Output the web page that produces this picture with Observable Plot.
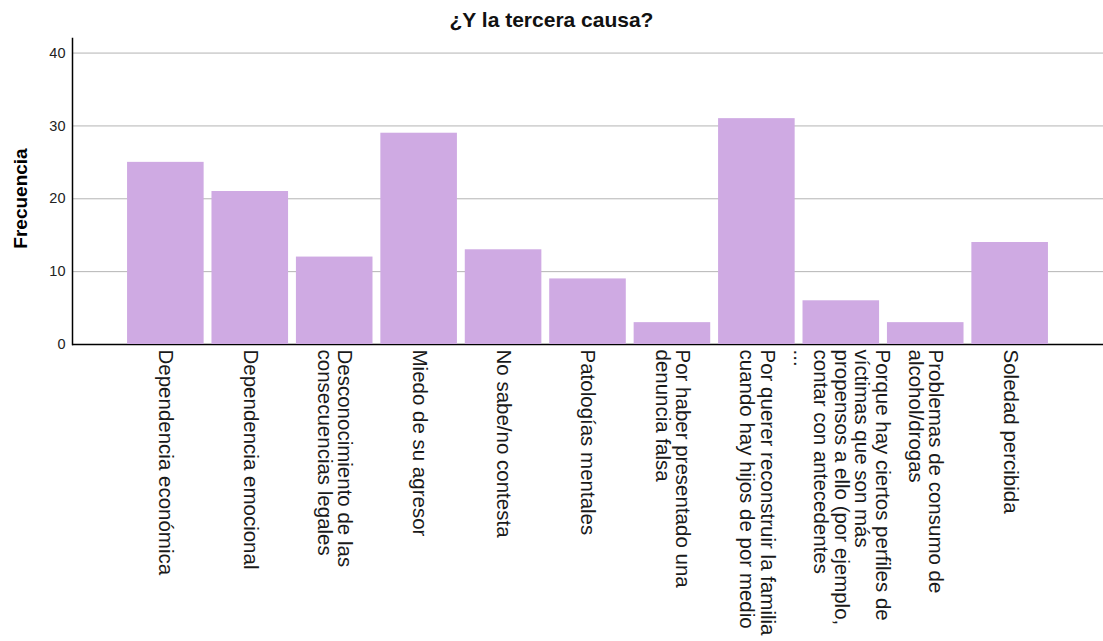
<!DOCTYPE html>
<html>
<head>
<meta charset="utf-8">
<script src="https://cdn.jsdelivr.net/npm/d3@7"></script>
<script src="https://cdn.jsdelivr.net/npm/@observablehq/plot@0.6"></script>
<style>
  body { margin: 0; background: #fff; font-family: "Liberation Sans", Arial, sans-serif; overflow: hidden; }
  #title { height: 36px; line-height: 40px; text-align: center; font-weight: bold; font-size: 21px; color: #111; white-space: nowrap; }
</style>
</head>
<body>
<div id="title">¿Y la tercera causa?</div>
<div id="chart"></div>
<script>
const categories = [
  "Dependencia económica",
  "Dependencia emocional",
  "Desconocimiento de las consecuencias legales",
  "Miedo de su agresor",
  "No sabe/no contesta",
  "Patologías mentales",
  "Por haber presentado una denuncia falsa",
  "Por querer reconstruir la familia cuando hay hijos de por medio",
  "Porque hay ciertos perfiles de víctimas que son más propensos a ello (por ejemplo, contar con antecedentes",
  "Problemas de consumo de alcohol/drogas",
  "Soledad percibida"
];
const tickLabels = [
  "Dependencia económica",
  "Dependencia emocional",
  "Desconocimiento de las\nconsecuencias legales",
  "Miedo de su agresor",
  "No sabe/no contesta",
  "Patologías mentales",
  "Por haber presentado una\ndenuncia falsa",
  "Por querer reconstruir la familia\ncuando hay hijos de por medio",
  "Porque hay ciertos perfiles de\nvíctimas que son más\npropensos a ello (por ejemplo,\ncontar con antecedentes\n...",
  "Problemas de consumo de\nalcohol/drogas",
  "Soledad percibida"
];
const frequencies = [25, 21, 12, 29, 13, 9, 3, 31, 6, 3, 14];
const yTicks = [0, 10, 20, 30, 40];
const yLabel = "Frecuencia";

const data = categories.map((c, i) => ({category: c, label: tickLabels[i], value: frequencies[i]}));

const chart = Plot.plot({
  width: 1103,
  height: 605,
  marginTop: 2,
  marginLeft: 72,
  marginRight: 0,
  marginBottom: 297,
  style: {fontFamily: "'Liberation Sans', Arial, sans-serif", background: "#fff", overflow: "visible"},
  x: {domain: categories, paddingInner: 0.093, paddingOuter: 0.652, round: false, axis: null},
  y: {domain: [0, 42], axis: null},
  marks: [
    Plot.gridY(yTicks.slice(1), {stroke: "#b4b4b4", strokeOpacity: 1, strokeWidth: 1}),
    Plot.ruleY([0], {stroke: "#000", strokeWidth: 1.5}),
    Plot.barY(data, {x: "category", y: "value", fill: "#cfaae3"}),
    Plot.frame({anchor: "left", stroke: "#000", strokeWidth: 1.5}),
    Plot.axisY({ticks: yTicks, tickSize: 0, tickPadding: 7, fontSize: 14.5, fill: "#222", label: null}),
    Plot.text(data, {x: "category", text: "label", frameAnchor: "bottom", rotate: 90, textAnchor: "start", lineAnchor: "middle", dy: 5, fontSize: 20.5, lineHeight: 1.0, fill: "#1a1a1a"}),
    Plot.text([yLabel], {frameAnchor: "left", rotate: -90, textAnchor: "middle", lineAnchor: "middle", dx: -52, dy: 7, fontWeight: "bold", fontSize: 19, fill: "#000"})
  ]
});
document.getElementById("chart").appendChild(chart);
</script>
</body>
</html>
